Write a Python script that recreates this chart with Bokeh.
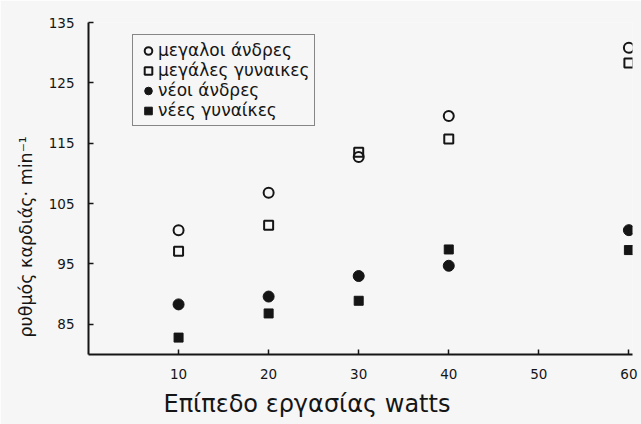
from bokeh.plotting import figure
from bokeh.models import Range1d, FixedTicker, Legend, LegendItem, Title
from bokeh.embed import file_html
from bokeh.resources import INLINE

# Workload (watts) and heart rate (beats per minute) per group
watts = [10, 20, 30, 40, 60]
older_men = [100.6, 106.8, 112.7, 119.5, 130.8]
older_women = [97.1, 101.4, 113.5, 115.7, 128.3]
young_men = [88.3, 89.6, 93.0, 94.7, 100.6]
young_women = [82.8, 86.8, 88.9, 97.4, 97.3]

labels = ["μεγαλοι άνδρες", "μεγάλες γυναικες", "νέοι άνδρες", "νέες γυναίκες"]
x_ticks = [10, 20, 30, 40, 50, 60]
y_ticks = [85, 95, 105, 115, 125, 135]
x_title = "Επίπεδο εργασίας watts"
y_title = "ρυθμός καρδιάς· min⁻¹"

FONT = "DejaVu Sans"
INK = "#151515"
BG = "#f6f6f6"

p = figure(width=641, height=424, output_backend="svg", toolbar_location=None,
           x_range=Range1d(0, 60.4), y_range=Range1d(80, 135),
           min_border_left=88, min_border_right=9, min_border_top=22, min_border_bottom=70,
           background_fill_color=BG, border_fill_color=BG)
p.outline_line_color = None
p.grid.visible = False

r1 = p.scatter(watts, older_men, marker="circle", size=10, fill_color=None,
               line_color=INK, line_width=2)
r2 = p.scatter(watts, older_women, marker="square", size=9, fill_color=None,
               line_color=INK, line_width=2)
r3 = p.scatter(watts, young_men, marker="circle", size=11, fill_color=INK,
               line_color=INK)
r4 = p.scatter(watts, young_women, marker="square", size=9, fill_color=INK,
               line_color=INK)

for ax in (p.xaxis[0], p.yaxis[0]):
    ax.axis_line_width = 2
    ax.axis_line_color = INK
    ax.major_tick_line_color = INK
    ax.major_tick_line_width = 1.5
    ax.major_tick_in = 5
    ax.major_tick_out = 0
    ax.minor_tick_line_color = None
    ax.major_label_text_font = FONT
    ax.major_label_text_font_size = "13.5px"
    ax.major_label_text_color = INK

p.xaxis.ticker = FixedTicker(ticks=x_ticks)
p.yaxis.ticker = FixedTicker(ticks=y_ticks)
p.xaxis.major_label_standoff = 14
p.yaxis.major_label_standoff = 14

# Axis titles, set off-centre along each axis
p.add_layout(Title(text=x_title, align="left", offset=75, text_font=FONT,
                   text_font_size="24px", text_font_style="normal",
                   text_color=INK, standoff=12), "below")
p.add_layout(Title(text=y_title, align="left", offset=17, text_font=FONT,
                   text_font_size="17.5px", text_font_style="normal",
                   text_color=INK, standoff=19), "left")

legend = Legend(items=[LegendItem(label=labels[0], renderers=[r1]),
                       LegendItem(label=labels[1], renderers=[r2]),
                       LegendItem(label=labels[2], renderers=[r3]),
                       LegendItem(label=labels[3], renderers=[r4])],
                location=(44, 228), orientation="vertical",
                label_text_font=FONT, label_text_font_size="17px",
                label_text_color=INK, label_standoff=0,
                glyph_width=20, glyph_height=19, label_height=19,
                spacing=0, padding=5, margin=0,
                border_line_color=INK, border_line_width=1.5,
                background_fill_color=BG, background_fill_alpha=1)
p.add_layout(legend)

open("out.html", "w").write(file_html(p, INLINE))
